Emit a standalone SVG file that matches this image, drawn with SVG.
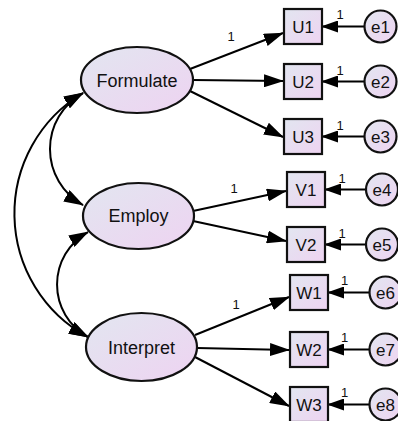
<svg xmlns="http://www.w3.org/2000/svg" width="398" height="421" viewBox="0 0 398 421">
  <defs>
    <linearGradient id="fill" x1="0" y1="0" x2="1" y2="1">
      <stop offset="0" stop-color="#e2e6f0"/>
      <stop offset="1" stop-color="#eed3f1"/>
    </linearGradient>
    <marker id="ah" viewBox="0 0 20 13" refX="19" refY="6.5" markerWidth="20" markerHeight="13" orient="auto-start-reverse" markerUnits="userSpaceOnUse">
      <path d="M0,0 L20,6.5 L0,13 z" fill="#000"/>
    </marker>
    <marker id="ahs" viewBox="0 0 17 12" refX="16" refY="6" markerWidth="17" markerHeight="12" orient="auto" markerUnits="userSpaceOnUse">
      <path d="M0,0 L17,6 L0,12 z" fill="#000"/>
    </marker>
  </defs>
  <style>
    .shape { fill: url(#fill); stroke: #111; stroke-width: 2.2; }
    .conn { fill: none; stroke: #000; stroke-width: 2; }
    .main { marker-end: url(#ah); }
    .cov { marker-start: url(#ah); marker-end: url(#ah); }
    .err { marker-end: url(#ahs); }
    text { font-family: "Liberation Sans", Arial, sans-serif; fill: #111; text-anchor: middle; }
    .lat { font-size: 18px; }
    .obs { font-size: 17px; }
    .w { font-size: 13px; fill: #111; }
  </style>

  <!-- connectors -->
  <g id="connectors">
    <!-- covariances -->
    <path class="conn cov" d="M83,93 A140.3,140.3 0 0 0 88,337"/>
    <path class="conn cov" d="M83,93 A64,64 0 0 0 83,205"/>
    <path class="conn cov" d="M88,232 A60,60 0 0 0 88,337"/>
    <!-- loadings -->
    <line class="conn main" x1="190" y1="69" x2="283" y2="33"/>
    <line class="conn main" x1="193" y1="80" x2="283" y2="81"/>
    <line class="conn main" x1="190" y1="91" x2="283" y2="137"/>
    <line class="conn main" x1="193" y1="211" x2="286" y2="191"/>
    <line class="conn main" x1="193" y1="221" x2="286" y2="241"/>
    <line class="conn main" x1="195" y1="335" x2="289" y2="297"/>
    <line class="conn main" x1="197" y1="348" x2="289" y2="350"/>
    <line class="conn main" x1="195" y1="357" x2="289" y2="406"/>
    <!-- error terms -->
    <line class="conn err" x1="364" y1="26.5" x2="322" y2="26.5"/>
    <line class="conn err" x1="364" y1="81.5" x2="322" y2="81.5"/>
    <line class="conn err" x1="364" y1="136.5" x2="322" y2="136.5"/>
    <line class="conn err" x1="366" y1="189.5" x2="325" y2="189.5"/>
    <line class="conn err" x1="366" y1="244.5" x2="325" y2="244.5"/>
    <line class="conn err" x1="369" y1="292.5" x2="328" y2="292.5"/>
    <line class="conn err" x1="369" y1="349.5" x2="328" y2="349.5"/>
    <line class="conn err" x1="369" y1="404.5" x2="328" y2="404.5"/>
    <!-- fixed weights -->
    <text class="w" x="231" y="41">1</text>
    <text class="w" x="234" y="193">1</text>
    <text class="w" x="236" y="309">1</text>
    <text class="w" x="340" y="19">1</text>
    <text class="w" x="340" y="75">1</text>
    <text class="w" x="340" y="130">1</text>
    <text class="w" x="342" y="183">1</text>
    <text class="w" x="342" y="238">1</text>
    <text class="w" x="344.5" y="285">1</text>
    <text class="w" x="344.5" y="342">1</text>
    <text class="w" x="344.5" y="397">1</text>
  </g>

  <!-- latent variables -->
  <g id="Formulate">
    <ellipse class="shape" cx="137" cy="80" rx="56" ry="33"/>
    <text class="lat" x="137" y="87">Formulate</text>
  </g>
  <g id="Employ">
    <ellipse class="shape" cx="138.5" cy="216" rx="55.5" ry="33"/>
    <text class="lat" x="138.5" y="222">Employ</text>
  </g>
  <g id="Interpret">
    <ellipse class="shape" cx="141.5" cy="347" rx="55.5" ry="34"/>
    <text class="lat" x="141.5" y="354">Interpret</text>
  </g>

  <!-- observed variables -->
  <g id="U1"><rect class="shape" x="284" y="9" width="38" height="35"/><text class="obs" x="303" y="32.5">U1</text></g>
  <g id="U2"><rect class="shape" x="284" y="64" width="38" height="35"/><text class="obs" x="303" y="87.5">U2</text></g>
  <g id="U3"><rect class="shape" x="284" y="119" width="38" height="35"/><text class="obs" x="303" y="142.5">U3</text></g>
  <g id="V1"><rect class="shape" x="287" y="172" width="38" height="35"/><text class="obs" x="306" y="195.5">V1</text></g>
  <g id="V2"><rect class="shape" x="287" y="227" width="38" height="35"/><text class="obs" x="306" y="250.5">V2</text></g>
  <g id="W1"><rect class="shape" x="290" y="275" width="38" height="35"/><text class="obs" x="309" y="298.5">W1</text></g>
  <g id="W2"><rect class="shape" x="290" y="332" width="38" height="35"/><text class="obs" x="309" y="355.5">W2</text></g>
  <g id="W3"><rect class="shape" x="290" y="387" width="38" height="35"/><text class="obs" x="309" y="410.5">W3</text></g>

  <!-- error terms -->
  <g id="e1"><circle class="shape" cx="380.5" cy="26.5" r="16"/><text class="obs" x="380.5" y="32.5">e1</text></g>
  <g id="e2"><circle class="shape" cx="380.5" cy="81.5" r="16"/><text class="obs" x="380.5" y="87.5">e2</text></g>
  <g id="e3"><circle class="shape" cx="380.5" cy="136.5" r="16"/><text class="obs" x="380.5" y="142.5">e3</text></g>
  <g id="e4"><circle class="shape" cx="382" cy="189.5" r="16"/><text class="obs" x="382" y="195.5">e4</text></g>
  <g id="e5"><circle class="shape" cx="382" cy="244.5" r="16"/><text class="obs" x="382" y="250.5">e5</text></g>
  <g id="e6"><circle class="shape" cx="385.5" cy="292.5" r="16"/><text class="obs" x="385.5" y="298.5">e6</text></g>
  <g id="e7"><circle class="shape" cx="385.5" cy="349.5" r="16"/><text class="obs" x="385.5" y="355.5">e7</text></g>
  <g id="e8"><circle class="shape" cx="385.5" cy="404.5" r="16"/><text class="obs" x="385.5" y="410.5">e8</text></g>
</svg>
